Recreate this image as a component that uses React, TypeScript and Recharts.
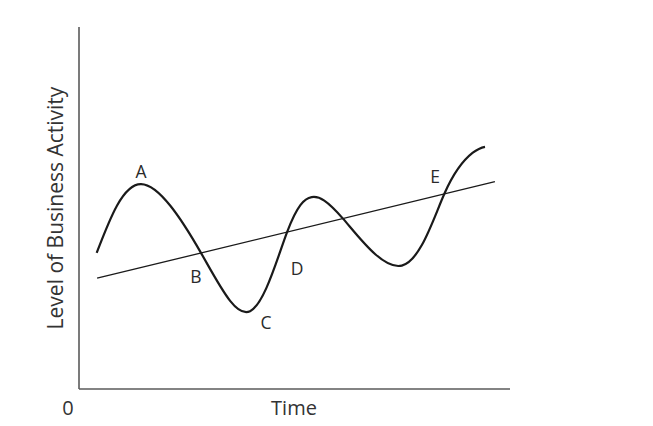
import { ComposedChart, Line, XAxis, YAxis, ReferenceDot } from "recharts";

// business cycle curve (x = time, y = activity)
const cycleX = [4.1, 14.4, 28.3, 39.7, 48.3, 54.0, 61.3, 74.9, 84.8, 91.3, 94.2];
const cycleY = [37.6, 56.6, 37.6, 21.5, 43.4, 53.0, 47.0, 34.1, 54.0, 65.2, 66.9];

// long-run trend line
const trendX = [4.2, 96.5];
const trendY = [30.6, 57.3];

// lettered points
const pointNames = ["A", "B", "C", "D", "E"];
const pointX = [14.4, 27.1, 43.4, 50.6, 82.6];
const pointY = [60.0, 30.9, 18.2, 33.1, 58.6];

const FONT = "'Open Sans', sans-serif";
const AXIS = "#5a5a5a";

const cycleData = cycleX.map((x, i) => ({ x, y: cycleY[i] }));
const trendData = trendX.map((x, i) => ({ x, y: trendY[i] }));

export default function App() {
  return (
    <div style={{ position: "absolute", left: 0, top: 0, width: 653, height: 426, background: "#fff", fontFamily: FONT }}>
      <ComposedChart width={653} height={426} margin={{ top: 27, right: 143, bottom: 36, left: 78 }}>
        <XAxis type="number" dataKey="x" domain={[0, 100]} allowDataOverflow height={1}
          tick={false} tickLine={false} axisLine={{ stroke: AXIS, strokeWidth: 1.6 }} />
        <YAxis type="number" dataKey="y" domain={[0, 100]} allowDataOverflow width={1}
          tick={false} tickLine={false} axisLine={{ stroke: AXIS, strokeWidth: 1.6 }} />
        <Line data={trendData} dataKey="y" type="linear" stroke="#1a1a1a" strokeWidth={1.3}
          dot={false} activeDot={false} isAnimationActive={false} />
        <Line data={cycleData} dataKey="y" type="natural" stroke="#1a1a1a" strokeWidth={2.2}
          dot={false} activeDot={false} isAnimationActive={false} />
        {pointNames.map((name, i) => (
          <ReferenceDot key={name} x={pointX[i]} y={pointY[i]} r={0} fill="none" stroke="none"
            label={{ value: name, position: "center", fill: "#2a2a2a", fontSize: 17.5, fontFamily: FONT }} />
        ))}
      </ComposedChart>
      <div style={{ position: "absolute", left: 68, top: 408, transform: "translate(-50%, -50%)", fontSize: 20, color: "#333", lineHeight: 1 }}>0</div>
      <div style={{ position: "absolute", left: 294, top: 408, transform: "translate(-50%, -50%)", fontSize: 20, color: "#333", lineHeight: 1 }}>Time</div>
      <div style={{ position: "absolute", left: 55, top: 208, transform: "translate(-50%, -50%) rotate(-90deg)", fontSize: 21, color: "#333", lineHeight: 1, whiteSpace: "nowrap" }}>
        Level of Business Activity
      </div>
    </div>
  );
}
